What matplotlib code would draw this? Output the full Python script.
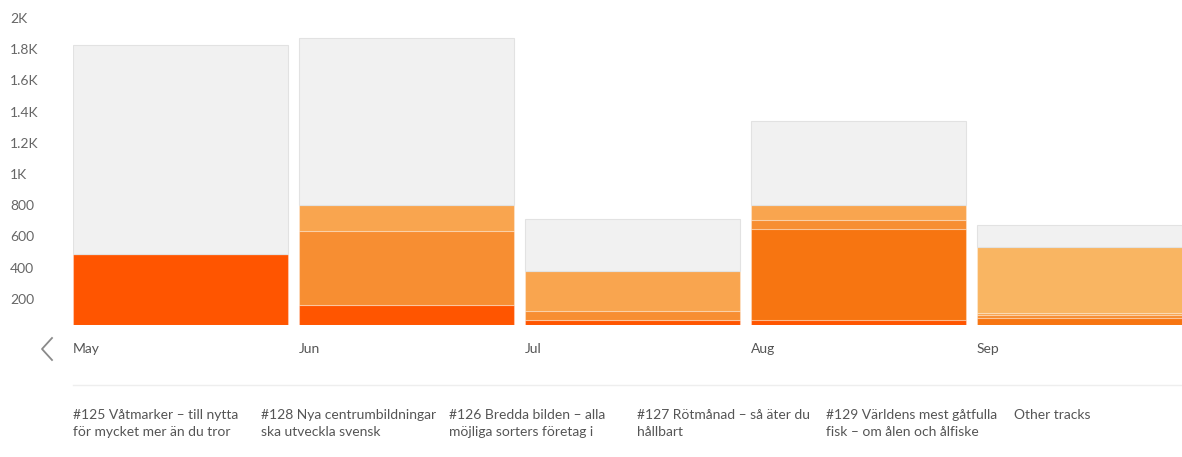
import matplotlib
matplotlib.use("Agg")
import matplotlib.pyplot as plt
import matplotlib.transforms as mtransforms
import numpy as np

plt.rcParams['font.family'] = ['Lato', 'DejaVu Sans']

months = ["May", "Jun", "Jul", "Aug", "Sep"]
series_names = [
    "#125 Våtmarker – till nytta\nför mycket mer än du tror",
    "#128 Nya centrumbildningar\nska utveckla svensk",
    "#126 Bredda bilden – alla\nmöjliga sorters företag i",
    "#127 Rötmånad – så äter du\nhållbart",
    "#129 Världens mest gåtfulla\nfisk – om ålen och ålfiske",
    "Other tracks",
]
# stacked values, bottom to top
s125 = [455, 128, 32, 32, 0]
s128 = [0, 0, 0, 583, 47]
s126 = [0, 475, 60, 58, 16]
s127 = [0, 166, 256, 96, 16]
s129 = [0, 0, 0, 0, 421]
other = [1340, 1071, 331, 539, 141]
series_values = [s125, s128, s126, s127, s129, other]
colors = ["#FF5500", "#F77511", "#F78E32", "#F9A54F", "#F9B562", "#F1F1F1"]

ytick_vals = [200, 400, 600, 800, 1000, 1200, 1400, 1600, 1800, 2000]
ytick_labels = ["200", "400", "600", "800", "1K", "1.2K", "1.4K", "1.6K", "1.8K", "2K"]

W, H = 1182, 457
fig = plt.figure(figsize=(W / 100, H / 100), dpi=100)
px_per_unit = 0.156
ax_top_px, ax_bot_px = 0, 325
ax_left_px = 73
ax = fig.add_axes([ax_left_px / W, 1 - ax_bot_px / H, 1 - ax_left_px / W, (ax_bot_px - ax_top_px) / H])

pitch = 226.0
bw = 215.0 / pitch
x = np.arange(len(months))
bottom = np.zeros(len(months))
for vals, col in zip(series_values, colors):
    v = np.array(vals, dtype=float)
    edge = "#E2E2E2" if col == "#F1F1F1" else (1, 1, 1, 0.3)
    ax.bar(x, v, width=bw, bottom=bottom, align='edge', color=col,
           edgecolor=edge, linewidth=0.8, zorder=2)
    bottom += v

ax.set_xlim(0, (W - ax_left_px) / pitch)
ax.set_ylim(0, (ax_bot_px - ax_top_px) / px_per_unit)
for s in ax.spines.values():
    s.set_visible(False)
ax.set_xticks([])
ax.set_yticks(ytick_vals)
ax.set_yticklabels(ytick_labels)
ax.tick_params(axis='y', length=0, pad=(ax_left_px - 10) * 0.72, labelsize=10, labelcolor="#666666")
off = mtransforms.ScaledTranslation(0, -5 / 100, fig.dpi_scale_trans)
for lab in ax.get_yticklabels():
    lab.set_horizontalalignment('left')
    lab.set_transform(lab.get_transform() + off)

# month labels
for i, m in enumerate(months):
    ax.annotate(m, xy=(i, 0), xycoords=('data', 'data'), xytext=(0, -24 * 0.72),
                textcoords='offset points', ha='left', va='center',
                fontsize=10, color="#555555", annotation_clip=False)

# chevron
fig.add_artist(plt.Line2D([52 / W, 42 / W, 52 / W],
                          [1 - 338 / H, 1 - 349 / H, 1 - 360 / H],
                          color="#8a8a8a", linewidth=1.3))
# separator line
fig.add_artist(plt.Line2D([73 / W, 1.0], [1 - 384.5 / H, 1 - 384.5 / H],
                          color="#EEEEEE", linewidth=1))

# legend text
leg_x = [73, 261, 449, 637, 826, 1014]
for name, lx in zip(series_names, leg_x):
    fig.text(lx / W, 1 - 409 / H, name, ha='left', va='top', fontsize=10,
             color="#555555", linespacing=1.45)

fig.savefig("out.png", dpi=100)
